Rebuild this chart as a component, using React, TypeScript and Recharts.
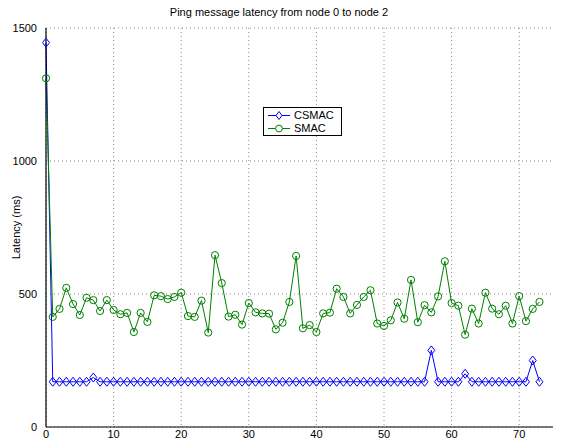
import React from "react";
import { LineChart, Line, XAxis, YAxis, CartesianGrid } from "recharts";

const csmac = [
  1445, 170, 170, 170, 170, 170, 170, 186, 170, 170,
  170, 170, 170, 170, 170, 170, 170, 170, 170, 170,
  170, 170, 170, 170, 170, 170, 170, 170, 170, 170,
  170, 170, 170, 170, 170, 170, 170, 170, 170, 170,
  170, 170, 170, 170, 170, 170, 170, 170, 170, 170,
  170, 170, 170, 170, 170, 170, 170, 288, 170, 170,
  170, 170, 200, 170, 170, 170, 170, 170, 170, 170,
  170, 170, 250, 170,
];

const smac = [
  1311, 414, 444, 523, 462, 421, 486, 477, 436, 477,
  440, 424, 429, 357, 429, 395, 495, 492, 481, 489,
  505, 417, 414, 475, 355, 646, 541, 415, 422, 385,
  466, 431, 427, 426, 367, 392, 470, 643, 371, 383,
  357, 427, 430, 520, 489, 427, 459, 489, 514, 389,
  380, 401, 468, 407, 553, 394, 458, 431, 491, 623,
  466, 456, 347, 445, 389, 505, 445, 424, 456, 389,
  492, 398, 444, 470,
];

const xTicks = [0, 10, 20, 30, 40, 50, 60, 70];
const yTicks = [0, 500, 1000, 1500];

const data = csmac.map((v, i) => ({ x: i, csmac: v, smac: smac[i] }));

const font = "'Liberation Sans', Arial, sans-serif";
const axisStroke = { stroke: "#000", strokeWidth: 1.2 };

const Diamond = (props: any) => {
  const { cx, cy, stroke } = props;
  if (cx == null || cy == null) return null;
  return (
    <path
      d={`M${cx},${cy - 4.5}L${cx + 3.5},${cy}L${cx},${cy + 4.5}L${cx - 3.5},${cy}Z`}
      fill="none"
      stroke={stroke}
      strokeWidth={1}
    />
  );
};

const Circle = (props: any) => {
  const { cx, cy, stroke } = props;
  if (cx == null || cy == null) return null;
  return <circle cx={cx} cy={cy} r={3.6} fill="none" stroke={stroke} strokeWidth={1} />;
};

const LegendBox = () => (
  <div
    style={{
      position: "absolute",
      left: 263,
      top: 107,
      border: "1px solid #000",
      background: "#fff",
      width: 79,
      height: 29,
      fontFamily: font,
      fontSize: 11,
      lineHeight: "13px",
      paddingTop: 1,
      boxSizing: "border-box",
    }}
  >
    {[
      { name: "CSMAC", color: "#0000ff", shape: "d" },
      { name: "SMAC", color: "#008000", shape: "c" },
    ].map((it) => (
      <div key={it.name} style={{ display: "flex", alignItems: "center", height: 13 }}>
        <svg width={30} height={13} style={{ display: "block" }}>
          <line x1={4} x2={26} y1={6.5} y2={6.5} stroke={it.color} />
          {it.shape === "d" ? (
            <path d="M15,2.5L18,6.5L15,10.5L12,6.5Z" fill="#fff" stroke={it.color} />
          ) : (
            <circle cx={15} cy={6.5} r={3.4} fill="#fff" stroke={it.color} />
          )}
        </svg>
        <span style={{ color: "#000" }}>{it.name}</span>
      </div>
    ))}
  </div>
);

export default function App() {
  return (
    <div
      style={{
        position: "absolute",
        left: 0,
        top: 0,
        width: 562,
        height: 442,
        background: "#fff",
        fontFamily: font,
      }}
    >
      <div
        style={{
          position: "absolute",
          left: 129,
          width: 300,
          top: 6,
          textAlign: "center",
          fontSize: 11,
          color: "#000",
        }}
      >
        Ping message latency from node 0 to node 2
      </div>
      <LineChart
        width={562}
        height={442}
        data={data}
        margin={{ top: 28, right: 9, left: 0, bottom: 0 }}
      >
        <CartesianGrid
          stroke="#888"
          strokeDasharray="1 3"
          horizontalValues={yTicks}
          verticalValues={xTicks}
        />
        <XAxis
          xAxisId={0}
          dataKey="x"
          type="number"
          domain={[0, 75]}
          ticks={xTicks}
          height={15}
          tickLine={false}
          tickSize={3}
          axisLine={axisStroke}
          tick={{ fill: "#000", fontSize: 11, fontFamily: font }}
          tickMargin={0}
          interval={0}
        />
        <XAxis
          xAxisId="top"
          dataKey="x"
          type="number"
          orientation="top"
          mirror
          domain={[0, 75]}
          ticks={xTicks}
          height={0}
          tickSize={4}
          tick={false}
          tickLine={{ stroke: "#000" }}
          axisLine={axisStroke}
        />
        <XAxis
          xAxisId="bottomTicks"
          dataKey="x"
          type="number"
          mirror
          domain={[0, 75]}
          ticks={xTicks}
          height={0}
          tickSize={4}
          tick={false}
          tickLine={{ stroke: "#000" }}
          axisLine={false}
        />
        <YAxis
          yAxisId={0}
          domain={[0, 1500]}
          ticks={yTicks}
          width={46}
          tickLine={false}
          axisLine={axisStroke}
          tick={{ fill: "#000", fontSize: 11, fontFamily: font }}
          tickMargin={3}
          interval={0}
          label={{
            value: "Latency (ms)",
            angle: -90,
            position: "insideLeft",
            offset: 16,
            style: { fontSize: 11, fill: "#000", fontFamily: font, textAnchor: "middle" },
          }}
        />
        <YAxis
          yAxisId="leftTicks"
          mirror
          domain={[0, 1500]}
          ticks={yTicks}
          width={0}
          tickSize={4}
          tick={false}
          tickLine={{ stroke: "#000" }}
          axisLine={false}
        />
        <YAxis
          yAxisId="right"
          orientation="right"
          mirror
          domain={[0, 1500]}
          ticks={yTicks}
          width={0}
          tickSize={4}
          tick={false}
          tickLine={{ stroke: "#000" }}
          axisLine={axisStroke}
        />
        <Line
          dataKey="csmac"
          name="CSMAC"
          stroke="#0000ff"
          strokeWidth={1}
          dot={<Diamond />}
          activeDot={false}
          isAnimationActive={false}
          type="linear"
        />
        <Line
          dataKey="smac"
          name="SMAC"
          stroke="#008000"
          strokeWidth={1}
          dot={<Circle />}
          activeDot={false}
          isAnimationActive={false}
          type="linear"
        />
      </LineChart>
      <LegendBox />
    </div>
  );
}
